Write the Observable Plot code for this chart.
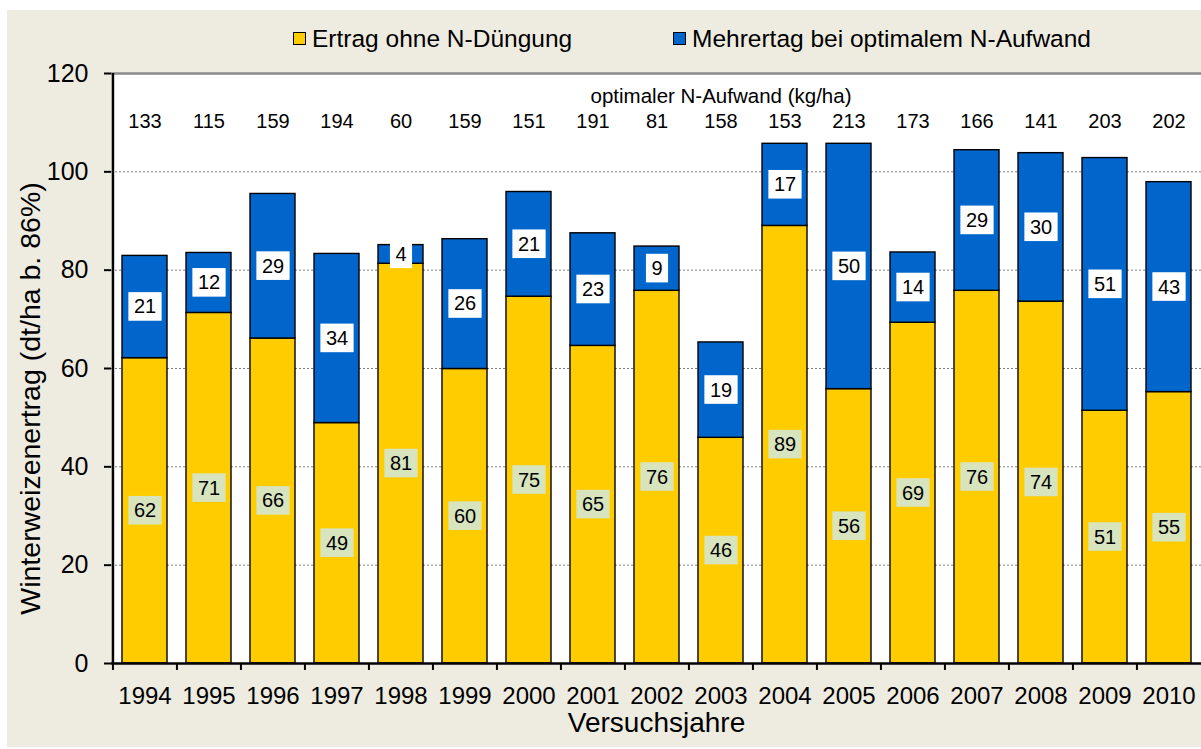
<!DOCTYPE html>
<html><head><meta charset="utf-8">
<script src="https://cdn.jsdelivr.net/npm/d3@7"></script>
<script src="https://cdn.jsdelivr.net/npm/@observablehq/plot@0.6"></script>
<style>
html,body{margin:0;padding:0;background:#fff;}
#fig{position:absolute;left:7px;top:10px;width:1194px;height:737px;background:#EEECE1;font-family:"Liberation Sans",Arial,sans-serif;overflow:hidden}
#chart{position:absolute;left:0;top:0}
.li{position:absolute;top:14px;height:29px;display:flex;align-items:center;font-size:24.5px;color:#000;white-space:nowrap}
.sw{width:11px;height:11px;border:1px solid #000;margin-right:6px;flex:none}
</style></head><body>
<div id="fig"><div id="chart"></div><div id="legend"></div></div>
<script>
const years = ["1994","1995","1996","1997","1998","1999","2000","2001","2002","2003","2004","2005","2006","2007","2008","2009","2010"];
const baseYield  = [62.1, 71.3, 66.1, 48.9, 81.3, 59.9, 74.6, 64.6, 75.8, 45.9, 89.0, 55.8, 69.3, 75.8, 73.6, 51.4, 55.2];
const extraYield = [20.8, 12.2, 29.4, 34.4, 3.8, 26.4, 21.3, 22.9, 9.0, 19.4, 16.7, 49.9, 14.3, 28.6, 30.2, 51.4, 42.7];
const nOptimum   = [133, 115, 159, 194, 60, 159, 151, 191, 81, 158, 153, 213, 173, 166, 141, 203, 202];
const seriesNames = ["Ertrag ohne N-Düngung", "Mehrertag bei optimalem N-Aufwand"];
const seriesColors = ["#FFCC00", "#0066CC"];
const yTicks = [0, 20, 40, 60, 80, 100, 120];
const nTitle = "optimaler N-Aufwand (kg/ha)";
const yTitle = "Winterweizenertrag (dt/ha b. 86%)";
const xTitle = "Versuchsjahre";

const rows = [
  ...years.map((y, i) => ({year: y, series: seriesNames[0], value: baseYield[i]})),
  ...years.map((y, i) => ({year: y, series: seriesNames[1], value: extraYield[i]}))
];
const baseMid = baseYield.map(v => v / 2);
const extraMid = baseYield.map((b, i) => b + extraYield[i] / 2);

const W = 1194, H = 737, mL = 104, mR = 0, mT = 63, mB = 84;
const halfStep = (W - mL - mR) / years.length / 2;

const chart = Plot.plot({
  width: W, height: H,
  marginLeft: mL, marginRight: mR, marginTop: mT, marginBottom: mB,
  style: {background: "transparent", fontFamily: "'Liberation Sans', Arial, sans-serif", color: "#000", overflow: "visible"},
  x: {type: "band", domain: years, paddingInner: 0.3, paddingOuter: 0.15, label: null},
  y: {domain: [0, 120], label: null},
  color: {domain: seriesNames, range: seriesColors},
  marks: [
    Plot.frame({fill: "#fff", stroke: "none"}),
    Plot.ruleY(yTicks.filter(t => t > 0 && t < 120), {stroke: "#808080", strokeWidth: 1, strokeDasharray: "2,2"}),
    Plot.ruleY([120], {stroke: "#8a8a8a", strokeWidth: 2.5}),
    Plot.barY(rows, {x: "year", y: "value", fill: "series", stroke: "#000", strokeWidth: 1.4}),
    Plot.ruleY([0], {stroke: "#000", strokeWidth: 2.5}),
    Plot.ruleX([years[0]], {x: d => d, dx: -halfStep, stroke: "#000", strokeWidth: 2.5}),
    Plot.axisY({ticks: yTicks, tickSize: 7, tickPadding: 16, fontSize: 25, strokeWidth: 2, label: null, tickFormat: d => String(d)}),
    Plot.axisX({tickSize: 0, tickPadding: 23, fontSize: 24, label: null}),
    Plot.axisX({tickSize: 7, tickPadding: 0, strokeWidth: 2, dx: -halfStep, tickFormat: () => "", label: null}),
    Plot.text(years, {x: d => d, y: baseMid, text: baseYield.map(v => Math.round(v)), fontSize: 20, fill: "#000"}),
    Plot.text(years, {x: d => d, y: extraMid, text: extraYield.map(v => Math.round(v)), fontSize: 20, fill: "#000"}),
    Plot.text(years, {x: d => d, text: nOptimum, frameAnchor: "top", dy: 40, fontSize: 20, fill: "#000"}),
    Plot.text([nTitle], {x: ["2003"], text: d => d, frameAnchor: "top", dy: 15, fontSize: 20.5, fill: "#000"}),
    Plot.text([yTitle], {text: d => d, frameAnchor: "left", textAnchor: "middle", rotate: -90, dx: -81, dy: 30, fontSize: 28.5, fill: "#000"}),
    Plot.text([xTitle], {text: d => d, frameAnchor: "bottom", dy: 68, fontSize: 28, fill: "#000"})
  ]
});
document.getElementById("chart").append(chart);

// the first two text marks are the segment labels (base, then extra)
const textGroups = chart.querySelectorAll('g[aria-label="text"]');
function addBoxes(group, fill) {
  if (!group) return;
  group.querySelectorAll("text").forEach(t => {
    const b = t.getBBox();
    const r = document.createElementNS("http://www.w3.org/2000/svg", "rect");
    r.setAttribute("x", b.x - 5.5);
    r.setAttribute("y", b.y - 3.3);
    r.setAttribute("width", b.width + 11);
    r.setAttribute("height", b.height + 6.6);
    r.setAttribute("fill", fill);
    if (t.getAttribute("transform")) r.setAttribute("transform", t.getAttribute("transform"));
    t.parentNode.insertBefore(r, t);
  });
}
addBoxes(textGroups[0], "#D7E4BD");
addBoxes(textGroups[1], "#FFFFFF");

const legend = document.getElementById("legend");
[[286, 0], [666, 1]].forEach(([left, i]) => {
  const item = document.createElement("div");
  item.className = "li";
  item.style.left = left + "px";
  const sw = document.createElement("div");
  sw.className = "sw";
  sw.style.background = seriesColors[i];
  const tx = document.createElement("span");
  tx.textContent = seriesNames[i];
  item.append(sw, tx);
  legend.append(item);
});
</script>
</body></html>
